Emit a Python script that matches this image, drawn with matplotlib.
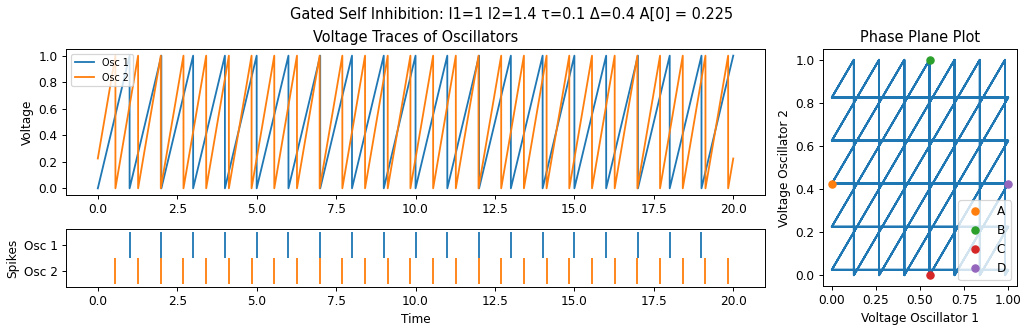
import numpy as np
import matplotlib.pyplot as plt

# run length and trace end points
t_end = 20.0
osc1_start, osc1_end = 0.0, 1.0
osc2_start, osc2_end = 0.225, 0.225

# spike (threshold crossing) times for each oscillator
osc1_spikes = [1.0, 2.0, 3.0, 4.0, 5.0, 6.0, 7.0, 8.0, 9.0, 10.0,
               11.0, 12.0, 13.0, 14.0, 15.0, 16.0, 17.0, 18.0, 19.0]
osc2_spikes = [0.554, 1.268, 1.982, 2.696, 3.411, 4.125, 4.839,
               5.554, 6.268, 6.982, 7.696, 8.411, 9.125, 9.839,
               10.554, 11.268, 11.982, 12.696, 13.411, 14.125, 14.839,
               15.554, 16.268, 16.982, 17.696, 18.411, 19.125, 19.839]

# marked states in the phase plane
point_names = ['A', 'B', 'C', 'D']
point_v1 = [0.0, 0.554, 0.554, 1.0]
point_v2 = [0.425, 1.0, 0.0, 0.425]
point_colors = ['C1', 'C2', 'C3', 'C4']


def sawtooth(start, spikes, end):
    # ramp up to 1 at every spike, then reset to 0
    t, v = [0.0], [start]
    for s in spikes:
        t += [s, s]
        v += [1.0, 0.0]
    t.append(t_end)
    v.append(end)
    return np.array(t), np.array(v)


def level(tv, vv, tq, after):
    # value of a trace at tq, just before or just after a reset
    for i in range(len(tv) - 1):
        t0, t1 = tv[i], tv[i + 1]
        if t1 == t0:
            continue
        inside = (t0 <= tq < t1) if after else (t0 < tq <= t1)
        if inside:
            return vv[i] + (vv[i + 1] - vv[i]) * (tq - t0) / (t1 - t0)
    return vv[-1]


t1, v1 = sawtooth(osc1_start, osc1_spikes, osc1_end)
t2, v2 = sawtooth(osc2_start, osc2_spikes, osc2_end)

# phase plane path: both traces are linear between events
events = sorted(set(osc1_spikes) | set(osc2_spikes))
px, py = [osc1_start], [osc2_start]
for e in events:
    for after in (False, True):
        px.append(level(t1, v1, e, after))
        py.append(level(t2, v2, e, after))
px.append(osc1_end)
py.append(osc2_end)

dpi = 87
fig = plt.figure(figsize=(1024 / dpi, 328 / dpi), dpi=dpi)
ax_v = fig.add_axes([0.0645, 0.4055, 0.6826, 0.4451])
ax_s = fig.add_axes([0.0645, 0.125, 0.6826, 0.1768])
ax_p = fig.add_axes([0.8037, 0.128, 0.1895, 0.7226])

ax_v.plot(t1, v1, color='C0', label='Osc 1')
ax_v.plot(t2, v2, color='C1', label='Osc 2')
ax_v.set_yticks(np.arange(0, 1.01, 0.2))
ax_v.set_ylabel('Voltage')
ax_v.set_title('Voltage Traces of Oscillators')
ax_v.legend(loc='upper left', fontsize=8)

ax_s.eventplot([osc2_spikes, osc1_spikes], colors=['C1', 'C0'],
               lineoffsets=[0, 1], linelengths=1)
ax_s.set_ylim(-0.6, 1.6)
ax_s.set_xlim(ax_v.get_xlim())
ax_s.set_yticks([0, 1])
ax_s.set_yticklabels(['Osc 2', 'Osc 1'])
ax_s.set_ylabel('Spikes')
ax_s.set_xlabel('Time')

ax_p.plot(px, py, color='C0')
for name, x, y, c in zip(point_names, point_v1, point_v2, point_colors):
    ax_p.plot(x, y, 'o', color=c, label=name)
ax_p.set_yticks(np.arange(0, 1.01, 0.2))
ax_p.legend(loc='lower right')
ax_p.set_xlabel('Voltage Oscillator 1')
ax_p.set_ylabel('Voltage Oscillator 2')
ax_p.set_title('Phase Plane Plot')

fig.suptitle('Gated Self Inhibition: I1=1 I2=1.4 \u03c4=0.1 \u0394=0.4 A[0] = 0.225')

fig.savefig('out.png', dpi=dpi)
